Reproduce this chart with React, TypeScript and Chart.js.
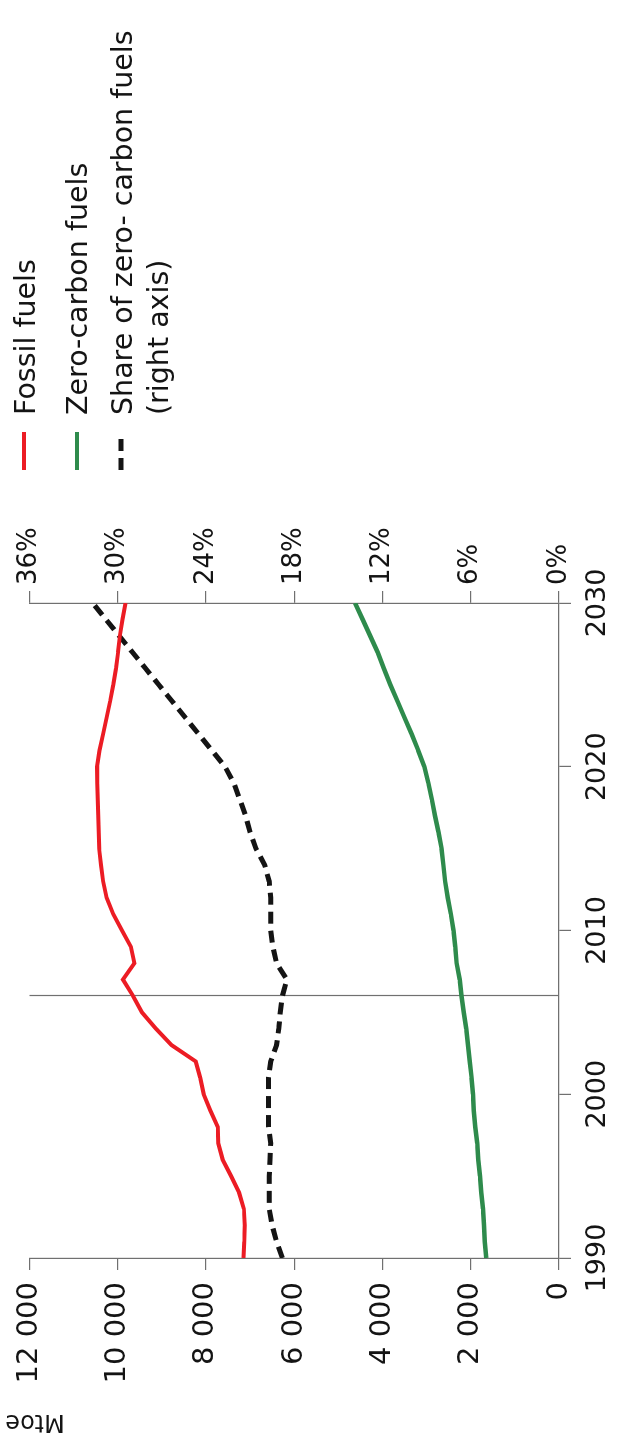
import React, { useEffect, useRef } from "react";
import { Chart, registerables } from "chart.js";

Chart.register(...registerables);

// Years on the horizontal axis (history to 2006, projection to 2030)
const years = [
  1990, 1991, 1992, 1993, 1994, 1995, 1996, 1997, 1998, 1999,
  2000, 2001, 2002, 2003, 2004, 2005, 2006, 2007, 2008, 2009,
  2010, 2011, 2012, 2013, 2014, 2015, 2016, 2017, 2018, 2019,
  2020, 2021, 2022, 2023, 2024, 2025, 2026, 2027, 2028, 2029, 2030,
];

// Fossil fuels, Mtoe
const fossilFuels = [
  7150, 7130, 7120, 7140, 7250, 7430, 7620, 7720, 7730, 7900,
  8050, 8130, 8230, 8780, 9130, 9450, 9650, 9880, 9620, 9700,
  9900, 10100, 10250, 10330, 10380, 10420, 10430, 10440, 10450, 10460,
  10470, 10410, 10330, 10250, 10170, 10100, 10040, 9990, 9950, 9890, 9820,
];

// Zero-carbon fuels, Mtoe
const zeroCarbonFuels = [
  1650, 1680, 1700, 1720, 1760, 1790, 1830, 1850, 1900, 1930,
  1950, 1980, 2020, 2060, 2100, 2160, 2210, 2250, 2320, 2350,
  2390, 2450, 2520, 2580, 2620, 2660, 2730, 2810, 2880, 2960,
  3050, 3190, 3340, 3500, 3660, 3820, 3970, 4110, 4280, 4450, 4620,
];

// Share of zero-carbon fuels, % (right axis)
const zeroCarbonShare = [
  18.8, 19.2, 19.5, 19.7, 19.7, 19.7, 19.65, 19.6, 19.75, 19.75,
  19.75, 19.75, 19.6, 19.2, 19.05, 18.95, 18.8, 18.5, 19.2, 19.45,
  19.6, 19.6, 19.6, 19.7, 20.0, 20.6, 21.0, 21.3, 21.7, 22.1,
  22.7, 23.6, 24.5, 25.4, 26.3, 27.2, 28.1, 29.0, 29.9, 30.8, 31.7,
];

const leftTicks = [0, 2000, 4000, 6000, 8000, 10000, 12000];
const rightTicks = [0, 6, 12, 18, 24, 30, 36];
const yearTicks = [1990, 2000, 2010, 2020, 2030];
const lastHistoricalYear = 2006;

const seriesLabels = ["Fossil fuels", "Zero-carbon fuels", "Share of zero- carbon fuels"];
const shareLabelSecondLine = "(right axis)";
const unitLabel = "Mtoe";

const FONT = "'DejaVu Sans', sans-serif";
const RED = "#ec1c24";
const GREEN = "#2e8b4c";
const BLACK = "#141414";
const AXIS = "#707070";

const W = 1452;
const H = 625;

function fmtThousands(v: number): string {
  if (v < 1000) return String(v);
  const th = Math.floor(v / 1000);
  const rest = String(v % 1000).padStart(3, "0");
  return `${th} ${rest}`;
}

const decorPlugin = {
  id: "decor",
  beforeDatasetsDraw(chart: any) {
    const { ctx, chartArea, scales } = chart;
    const x = Math.round(scales.x.getPixelForValue(lastHistoricalYear)) + 0.5;
    ctx.save();
    ctx.strokeStyle = AXIS;
    ctx.lineWidth = 1.2;
    ctx.beginPath();
    ctx.moveTo(x, chartArea.top);
    ctx.lineTo(x, chartArea.bottom);
    ctx.stroke();
    ctx.restore();
  },
  afterDraw(chart: any) {
    const { ctx } = chart;
    ctx.save();
    // unit title
    ctx.fillStyle = BLACK;
    ctx.font = `24px ${FONT}`;
    ctx.translate(31, 35);
    ctx.rotate(-Math.PI / 2);
    ctx.textAlign = "center";
    ctx.textBaseline = "middle";
    ctx.fillText(unitLabel, 0, 0);
    ctx.restore();

    // legend
    ctx.save();
    const mx0 = 982;
    const mx1 = 1020;
    const tx = 1037;
    const rows = [
      { color: RED, dash: [] as number[], y: 24, label: seriesLabels[0], base: 35 },
      { color: GREEN, dash: [] as number[], y: 77, label: seriesLabels[1], base: 87 },
      { color: BLACK, dash: [12, 7], y: 121, label: seriesLabels[2], base: 132 },
    ];
    ctx.font = `28.5px ${FONT}`;
    ctx.textAlign = "left";
    ctx.textBaseline = "alphabetic";
    for (const r of rows) {
      ctx.strokeStyle = r.color;
      ctx.lineWidth = r.color === BLACK ? 5 : 4;
      ctx.setLineDash(r.dash);
      ctx.beginPath();
      ctx.moveTo(mx0, r.y);
      ctx.lineTo(mx1, r.y);
      ctx.stroke();
      ctx.setLineDash([]);
      ctx.fillStyle = BLACK;
      ctx.fillText(r.label, tx, r.base);
    }
    ctx.fillText(shareLabelSecondLine, tx, 168);
    ctx.restore();
  },
};

export default function App() {
  const canvasRef = useRef<HTMLCanvasElement | null>(null);

  useEffect(() => {
    const canvas = canvasRef.current;
    if (!canvas) return;
    const toXY = (vals: number[]) => vals.map((v, i) => ({ x: years[i], y: v }));
    const gridCommon = {
      drawOnChartArea: false,
      drawTicks: true,
      tickLength: 12,
      color: AXIS,
      lineWidth: 1.2,
    };
    const chart = new Chart(canvas, {
      type: "line",
      data: {
        datasets: [
          {
            label: seriesLabels[0],
            data: toXY(fossilFuels),
            borderColor: RED,
            borderWidth: 4,
            pointRadius: 0,
            tension: 0,
            yAxisID: "y",
          },
          {
            label: seriesLabels[1],
            data: toXY(zeroCarbonFuels),
            borderColor: GREEN,
            borderWidth: 4.5,
            pointRadius: 0,
            tension: 0,
            yAxisID: "y",
          },
          {
            label: seriesLabels[2],
            data: toXY(zeroCarbonShare),
            borderColor: BLACK,
            borderWidth: 5,
            borderDash: [12, 7],
            pointRadius: 0,
            tension: 0,
            yAxisID: "y1",
          },
        ],
      },
      options: {
        responsive: false,
        animation: false,
        devicePixelRatio: 1,
        layout: { padding: { top: 29, left: 0, right: 0, bottom: 0 } },
        plugins: {
          legend: { display: false },
          tooltip: { enabled: false },
          title: { display: false },
        },
        scales: {
          x: {
            type: "linear",
            min: yearTicks[0],
            max: yearTicks[yearTicks.length - 1],
            afterBuildTicks: (scale: any) => {
              scale.ticks = yearTicks.map((v) => ({ value: v }));
            },
            afterFit: (scale: any) => {
              scale.height = 66;
            },
            grid: gridCommon,
            border: { display: true, color: AXIS, width: 1.2 },
            ticks: {
              font: { family: FONT, size: 27 },
              color: BLACK,
              padding: 11,
              maxRotation: 0,
              autoSkip: false,
              callback: (v: any) => String(v),
            },
          },
          y: {
            type: "linear",
            position: "left",
            min: leftTicks[0],
            max: leftTicks[leftTicks.length - 1],
            afterBuildTicks: (scale: any) => {
              scale.ticks = leftTicks.map((v) => ({ value: v }));
            },
            afterFit: (scale: any) => {
              scale.width = 194;
            },
            grid: gridCommon,
            border: { display: true, color: AXIS, width: 1.2 },
            ticks: {
              font: { family: FONT, size: 29 },
              color: BLACK,
              padding: 12,
              autoSkip: false,
              callback: (v: any) => fmtThousands(Number(v)),
            },
          },
          y1: {
            type: "linear",
            position: "right",
            min: rightTicks[0],
            max: rightTicks[rightTicks.length - 1],
            afterBuildTicks: (scale: any) => {
              scale.ticks = rightTicks.map((v) => ({ value: v }));
            },
            afterFit: (scale: any) => {
              scale.width = W - 849;
            },
            grid: gridCommon,
            border: { display: true, color: AXIS, width: 1.2 },
            ticks: {
              font: { family: FONT, size: 26 },
              color: BLACK,
              padding: 6,
              autoSkip: false,
              callback: (v: any) => `${v}%`,
            },
          },
        },
      },
      plugins: [decorPlugin],
    } as any);
    return () => chart.destroy();
  }, []);

  return (
    <div
      style={{
        position: "absolute",
        left: 0,
        top: 0,
        width: H,
        height: W,
        overflow: "hidden",
        background: "#fff",
      }}
    >
      <div
        style={{
          position: "absolute",
          left: 0,
          top: 0,
          width: W,
          height: H,
          transformOrigin: "0 0",
          transform: `translate(0px, ${W}px) rotate(-90deg)`,
        }}
      >
        <canvas ref={canvasRef} width={W} height={H} style={{ display: "block", width: W, height: H }} />
      </div>
    </div>
  );
}
